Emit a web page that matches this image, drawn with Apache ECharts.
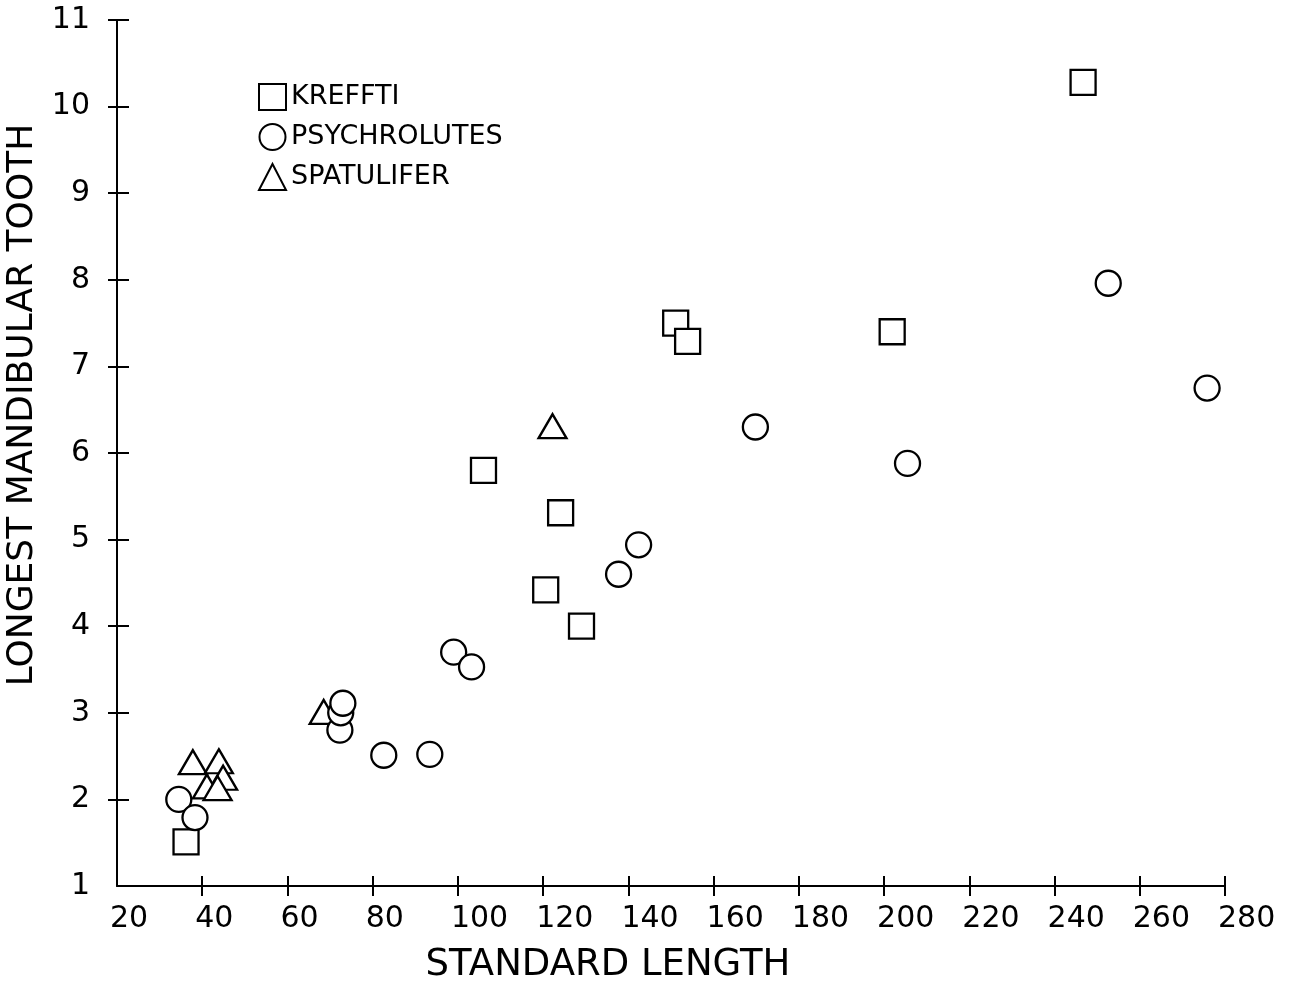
<!DOCTYPE html>
<html>
<head>
<meta charset="utf-8">
<script src="https://cdn.jsdelivr.net/npm/echarts@6/dist/echarts.min.js"></script>
<style>
html,body{margin:0;padding:0;background:#fff;}
#chart{width:1295px;height:984px;}
</style>
</head>
<body>
<div id="chart"></div>
<script>
// ---- data ----
const seriesNames = ['KREFFTI', 'PSYCHROLUTES', 'SPATULIFER'];

const krefftiX = [36.2, 106.0, 124.1, 120.6, 129.0, 151.1, 153.9, 201.9, 246.7];
const krefftiY = [1.51, 5.80, 5.31, 4.42, 4.00, 7.50, 7.29, 7.40, 10.28];

const psychrolutesX = [34.5, 38.3, 72.3, 72.5, 73.0, 82.6, 93.4, 99.0, 103.2, 137.7, 142.4, 169.8, 205.5, 252.6, 275.8];
const psychrolutesY = [2.00, 1.79, 2.80, 3.00, 3.11, 2.51, 2.52, 3.70, 3.53, 4.60, 4.94, 6.30, 5.88, 7.96, 6.75];

const spatuliferX = [37.8, 43.9, 44.9, 41.1, 43.6, 68.5, 122.2];
const spatuliferY = [2.43, 2.44, 2.25, 2.15, 2.13, 3.01, 6.31];

const xTickLabels = [20, 40, 60, 80, 100, 120, 140, 160, 180, 200, 220, 240, 260, 280];
const yTickLabels = [1, 2, 3, 4, 5, 6, 7, 8, 9, 10, 11];

const xAxisTitle = 'STANDARD LENGTH';
const yAxisTitle = 'LONGEST MANDIBULAR TOOTH';

// ---- build ----
function pairs(xs, ys) { return xs.map((x, i) => [x, ys[i]]); }
const FONT = 'DejaVu Sans';
const markerStyle = { color: '#fff', borderColor: '#000', borderWidth: 2.3, opacity: 1 };
const xTicks = xTickLabels.slice(1);
const yTicks = yTickLabels.slice(1);

const chart = echarts.init(document.getElementById('chart'), null, { renderer: 'canvas' });
chart.setOption({
  backgroundColor: '#fff',
  animation: false,
  textStyle: { fontFamily: FONT, color: '#000' },
  grid: { left: 117, right: 70, top: 20, bottom: 98, containLabel: false, outerBoundsMode: 'none' },
  legend: {
    data: seriesNames,
    orient: 'vertical',
    left: 258,
    top: 83,
    padding: 0,
    itemWidth: 27,
    itemHeight: 26,
    itemGap: 12,
    itemStyle: { opacity: 1 },
    textStyle: { fontFamily: FONT, fontSize: 27, color: '#000' },
    selectedMode: false
  },
  xAxis: [
    {
      type: 'value', min: 20, max: 280, interval: 20,
      axisLine: { lineStyle: { color: '#000', width: 2 } },
      splitLine: { show: false },
      axisTick: { length: 10, lineStyle: { color: '#000', width: 2 }, customValues: xTicks },
      axisLabel: { customValues: xTickLabels, fontSize: 30, color: '#000', fontFamily: FONT,
                   margin: 18, align: 'left', padding: [0, 0, 0, -7] },
      name: xAxisTitle, nameLocation: 'middle', nameGap: 61,
      nameTextStyle: { fontSize: 37, color: '#000', fontFamily: FONT, padding: [0, 126, 0, 0] }
    },
    {
      type: 'value', min: 20, max: 280, interval: 20, position: 'bottom', offset: 0,
      axisLine: { show: false },
      splitLine: { show: false },
      axisTick: { inside: true, length: 10, lineStyle: { color: '#000', width: 2 }, customValues: xTicks },
      axisLabel: { show: false }
    }
  ],
  yAxis: [
    {
      type: 'value', min: 1, max: 11, interval: 1,
      axisLine: { lineStyle: { color: '#000', width: 2 } },
      splitLine: { show: false },
      axisTick: { length: 9, lineStyle: { color: '#000', width: 2 }, customValues: yTicks },
      axisLabel: { customValues: yTickLabels, fontSize: 30, color: '#000', fontFamily: FONT, margin: 27 },
      name: yAxisTitle, nameLocation: 'middle', nameGap: 76,
      nameTextStyle: { fontSize: 36, color: '#000', fontFamily: FONT, padding: [0, 0, 0, 96] }
    },
    {
      type: 'value', min: 1, max: 11, interval: 1, position: 'left', offset: 0,
      axisLine: { show: false },
      splitLine: { show: false },
      axisTick: { inside: true, length: 12, lineStyle: { color: '#000', width: 2 }, customValues: yTicks },
      axisLabel: { show: false }
    }
  ],
  series: [
    {
      name: 'SPATULIFER', type: 'scatter', symbol: 'triangle', symbolSize: [28, 24],
      itemStyle: markerStyle, emphasis: { disabled: true },
      data: pairs(spatuliferX, spatuliferY)
    },
    {
      name: 'KREFFTI', type: 'scatter', symbol: 'rect', symbolSize: 25,
      itemStyle: markerStyle, emphasis: { disabled: true },
      data: pairs(krefftiX, krefftiY)
    },
    {
      name: 'PSYCHROLUTES', type: 'scatter', symbol: 'circle', symbolSize: 25,
      itemStyle: markerStyle, emphasis: { disabled: true },
      data: pairs(psychrolutesX, psychrolutesY)
    }
  ]
});
</script>
</body>
</html>
